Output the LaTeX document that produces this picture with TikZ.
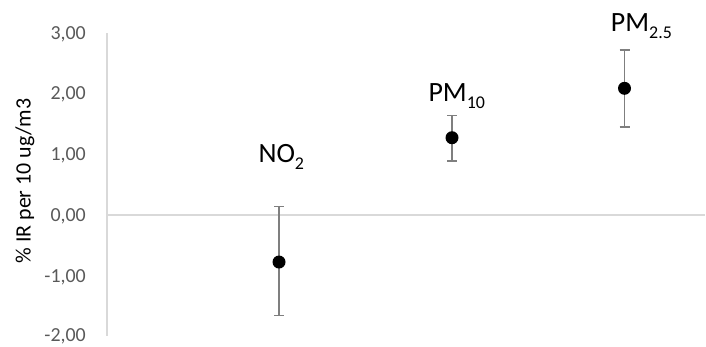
\documentclass[tikz,border=0pt]{standalone}
\usepackage{fontspec}
\setmainfont{Carlito}
\definecolor{ticktext}{HTML}{595959}
\definecolor{axisgray}{HTML}{D9D9D9}
\definecolor{errgray}{HTML}{7F7F7F}
\newcommand{\lowsub}[1]{\raisebox{-7bp}{\fontsize{18}{18}\selectfont #1}}
\begin{document}
\begin{tikzpicture}[x=1bp,y=-1bp,
  axisline/.style={draw=axisgray,line width=1.3bp},
  ticklbl/.style={anchor=base east,inner sep=0pt,text=ticktext,font=\fontsize{20}{20}\selectfont},
  errbar/.style={draw=errgray,line width=1.4bp},
  dotpt/.style={circle,fill=black,inner sep=0pt,minimum size=13bp},
  ptlbl/.style={anchor=base west,inner sep=0pt,font=\fontsize{28}{28}\selectfont}]
\useasboundingbox (0,0) rectangle (706,346);
% axes
\coordinate (ytop) at (107,33);
\coordinate (ybot) at (107,336);
\coordinate (x0) at (107,215);
\coordinate (xend) at (705,215);
\draw[axisline] (ytop) -- (ybot);
\draw[axisline] (x0) -- (xend);
% tick labels
\node[ticklbl] (t3) at (86,39.1) {3,00};
\node[ticklbl] (t2) at (86,99.9) {2,00};
\node[ticklbl] (t1) at (86,160.7) {1,00};
\node[ticklbl] (t0) at (86,221.5) {0,00};
\node[ticklbl] (tm1) at (86,282.3) {-1,00};
\node[ticklbl] (tm2) at (86,341.5) {-2,00};
% axis title
\node[rotate=90,inner sep=0pt,font=\fontsize{22}{22}\selectfont] (ytitle) at (25,181) {\% IR per 10 ug/m3};
% NO2
\coordinate (no2t) at (279,206.7);
\coordinate (no2b) at (279,315.7);
\draw[errbar] (no2t) -- (no2b);
\draw[errbar] ([xshift=-5bp]no2t) -- ([xshift=5bp]no2t);
\draw[errbar] ([xshift=-5bp]no2b) -- ([xshift=5bp]no2b);
\node[dotpt] (no2) at (279,262) {};
\node[ptlbl] (no2l) at (258.3,162) {NO\lowsub{2}};
% PM10
\coordinate (pm10t) at (452,115.2);
\coordinate (pm10b) at (452,161);
\draw[errbar] (pm10t) -- (pm10b);
\draw[errbar] ([xshift=-5bp]pm10t) -- ([xshift=5bp]pm10t);
\draw[errbar] ([xshift=-5bp]pm10b) -- ([xshift=5bp]pm10b);
\node[dotpt] (pm10) at (452,137.7) {};
\node[ptlbl] (pm10l) at (428.3,101.7) {PM\lowsub{10}};
% PM2.5
\coordinate (pm25t) at (624.5,50);
\coordinate (pm25b) at (624.5,127);
\draw[errbar] (pm25t) -- (pm25b);
\draw[errbar] ([xshift=-5bp]pm25t) -- ([xshift=5bp]pm25t);
\draw[errbar] ([xshift=-5bp]pm25b) -- ([xshift=5bp]pm25b);
\node[dotpt] (pm25) at (624.5,88.3) {};
\node[ptlbl] (pm25l) at (610.7,31.7) {PM\lowsub{2.5}};
\end{tikzpicture}
\end{document}
